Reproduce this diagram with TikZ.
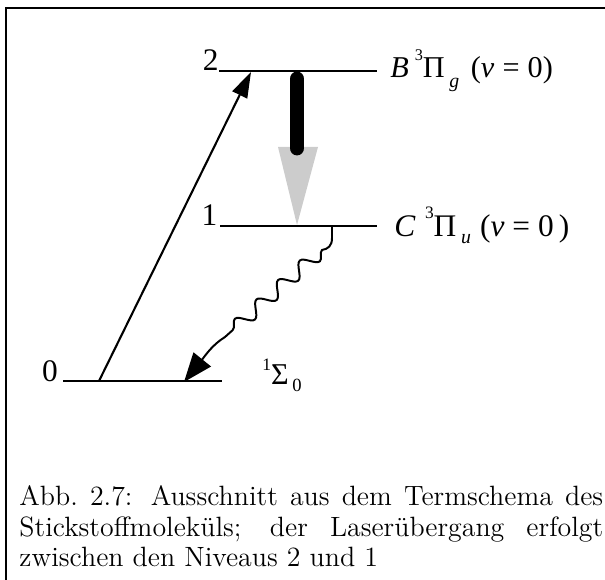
\documentclass[tikz,border=0pt]{standalone}
\usepackage{fontspec}
\newfontfamily\termfont{Liberation Serif}
\usetikzlibrary{arrows.meta,decorations.pathmorphing}

\begin{document}
\begin{tikzpicture}[
        x=0.43pt, y=-0.43pt,
        level/.style={line width=0.9pt},
        num/.style={anchor=base east, inner sep=0pt, font=\termfont\fontsize{13.5}{15}\selectfont},
        term/.style={anchor=base west, inner sep=0pt, font=\termfont\fontsize{13}{15}\selectfont},
        pump/.style={-{Triangle[length=11pt, width=7pt]}, line width=0.9pt},
        laser/.style={line width=6.4pt, line cap=round},
        cone/.style={fill=black!20},
        decay/.style={-{Triangle[length=12.5pt, width=9.5pt]}, line width=0.85pt},
        wave/.style={decoration={snake, segment length=12.5pt, amplitude=3pt}},
        caption/.style={anchor=north west, inner sep=0pt, text width=251pt, align=justify, font=\fontsize{12}{13.2}\selectfont}
    ]
    \useasboundingbox (0, 0) rectangle (605, 580);

    % Frame (left and top edge)
    \draw[line width=0.9pt] (6, 600) |- (620, 8);

    % Levels
    \coordinate (l2w) at (219, 71);
    \coordinate (l2e) at (377, 71);
    \coordinate (l1w) at (220, 226);
    \coordinate (l1e) at (377, 226);
    \coordinate (l0w) at (63, 381);
    \coordinate (l0e) at (222, 381);

    \draw[level] (l2w) -- (l2e);
    \draw[level] (l1w) -- (l1e);
    \draw[level] (l0w) -- (l0e);

    \node[num] (n2) at (l2w) {2};
    \node[num] (n1) at ([xshift=-1]l1w) {1};
    \node[num] (n0) at ([xshift=-2]l0w) {0};

    % Term symbols
    \node[term] (tB) at (390, 78) {\textit{B}\hspace{2.5pt}\raisebox{7.6pt}{\fontsize{7}{7}\selectfont 3}Π\hspace{2pt}\raisebox{-4pt}{\fontsize{8.5}{8.5}\selectfont\itshape g}\hspace{5pt}(\textit{v}\hspace{3.5pt}=\hspace{3.5pt}0)};
    \node[term, font=\termfont\fontsize{13.5}{15}\selectfont] (tC) at (394, 237) {\textit{C}\hspace{4pt}\raisebox{8pt}{\fontsize{7.5}{7.5}\selectfont 3}Π\hspace{2pt}\raisebox{-3pt}{\fontsize{8.5}{8.5}\selectfont\itshape u}\hspace{4pt}(\textit{v} = 0\,)};
    \node[term, font=\termfont\fontsize{13}{15}\selectfont] (tS) at (262, 384) {\raisebox{5.8pt}{\fontsize{7.5}{7.5}\selectfont 1}Σ\hspace{1.5pt}\raisebox{-3.4pt}{\fontsize{8}{8}\selectfont 0}};

    % Pump transition 0 -> 2
    \coordinate (pump0) at (99, 381);
    \coordinate (pump2) at (251, 72);
    \draw[pump] (pump0) -- (pump2);

    % Laser transition 2 -> 1
    \coordinate (conel) at (278, 147);
    \coordinate (coner) at (318, 147);
    \coordinate (conetip) at (297, 225);
    \fill[cone] (conel) -- (coner) -- (conetip) -- cycle;

    \coordinate (lasertop) at (297, 79);
    \coordinate (laserbot) at (297, 148);
    \draw[laser] (lasertop) -- (laserbot);

    % Decay 1 -> 0
    \coordinate (d1) at (332, 226);
    \coordinate (d1b) at (332, 238);
    \coordinate (ws) at (322, 250);
    \coordinate (we) at (225, 337);
    \coordinate (d0) at (184, 382);
    \draw[decay] (d1) -- (d1b) .. controls (332, 246) and (328, 249) .. (ws)
        decorate[wave] {-- (we)} .. controls (212, 345) and (205, 356) .. (d0);

    % Caption
    \node[caption] (cap) at (19, 485) {Abb.~2.7: Ausschnitt aus dem Termschema des\linebreak Stickstoffmoleküls; der Laserübergang erfolgt\linebreak zwischen den Niveaus 2 und 1};

\end{tikzpicture}
\end{document}
